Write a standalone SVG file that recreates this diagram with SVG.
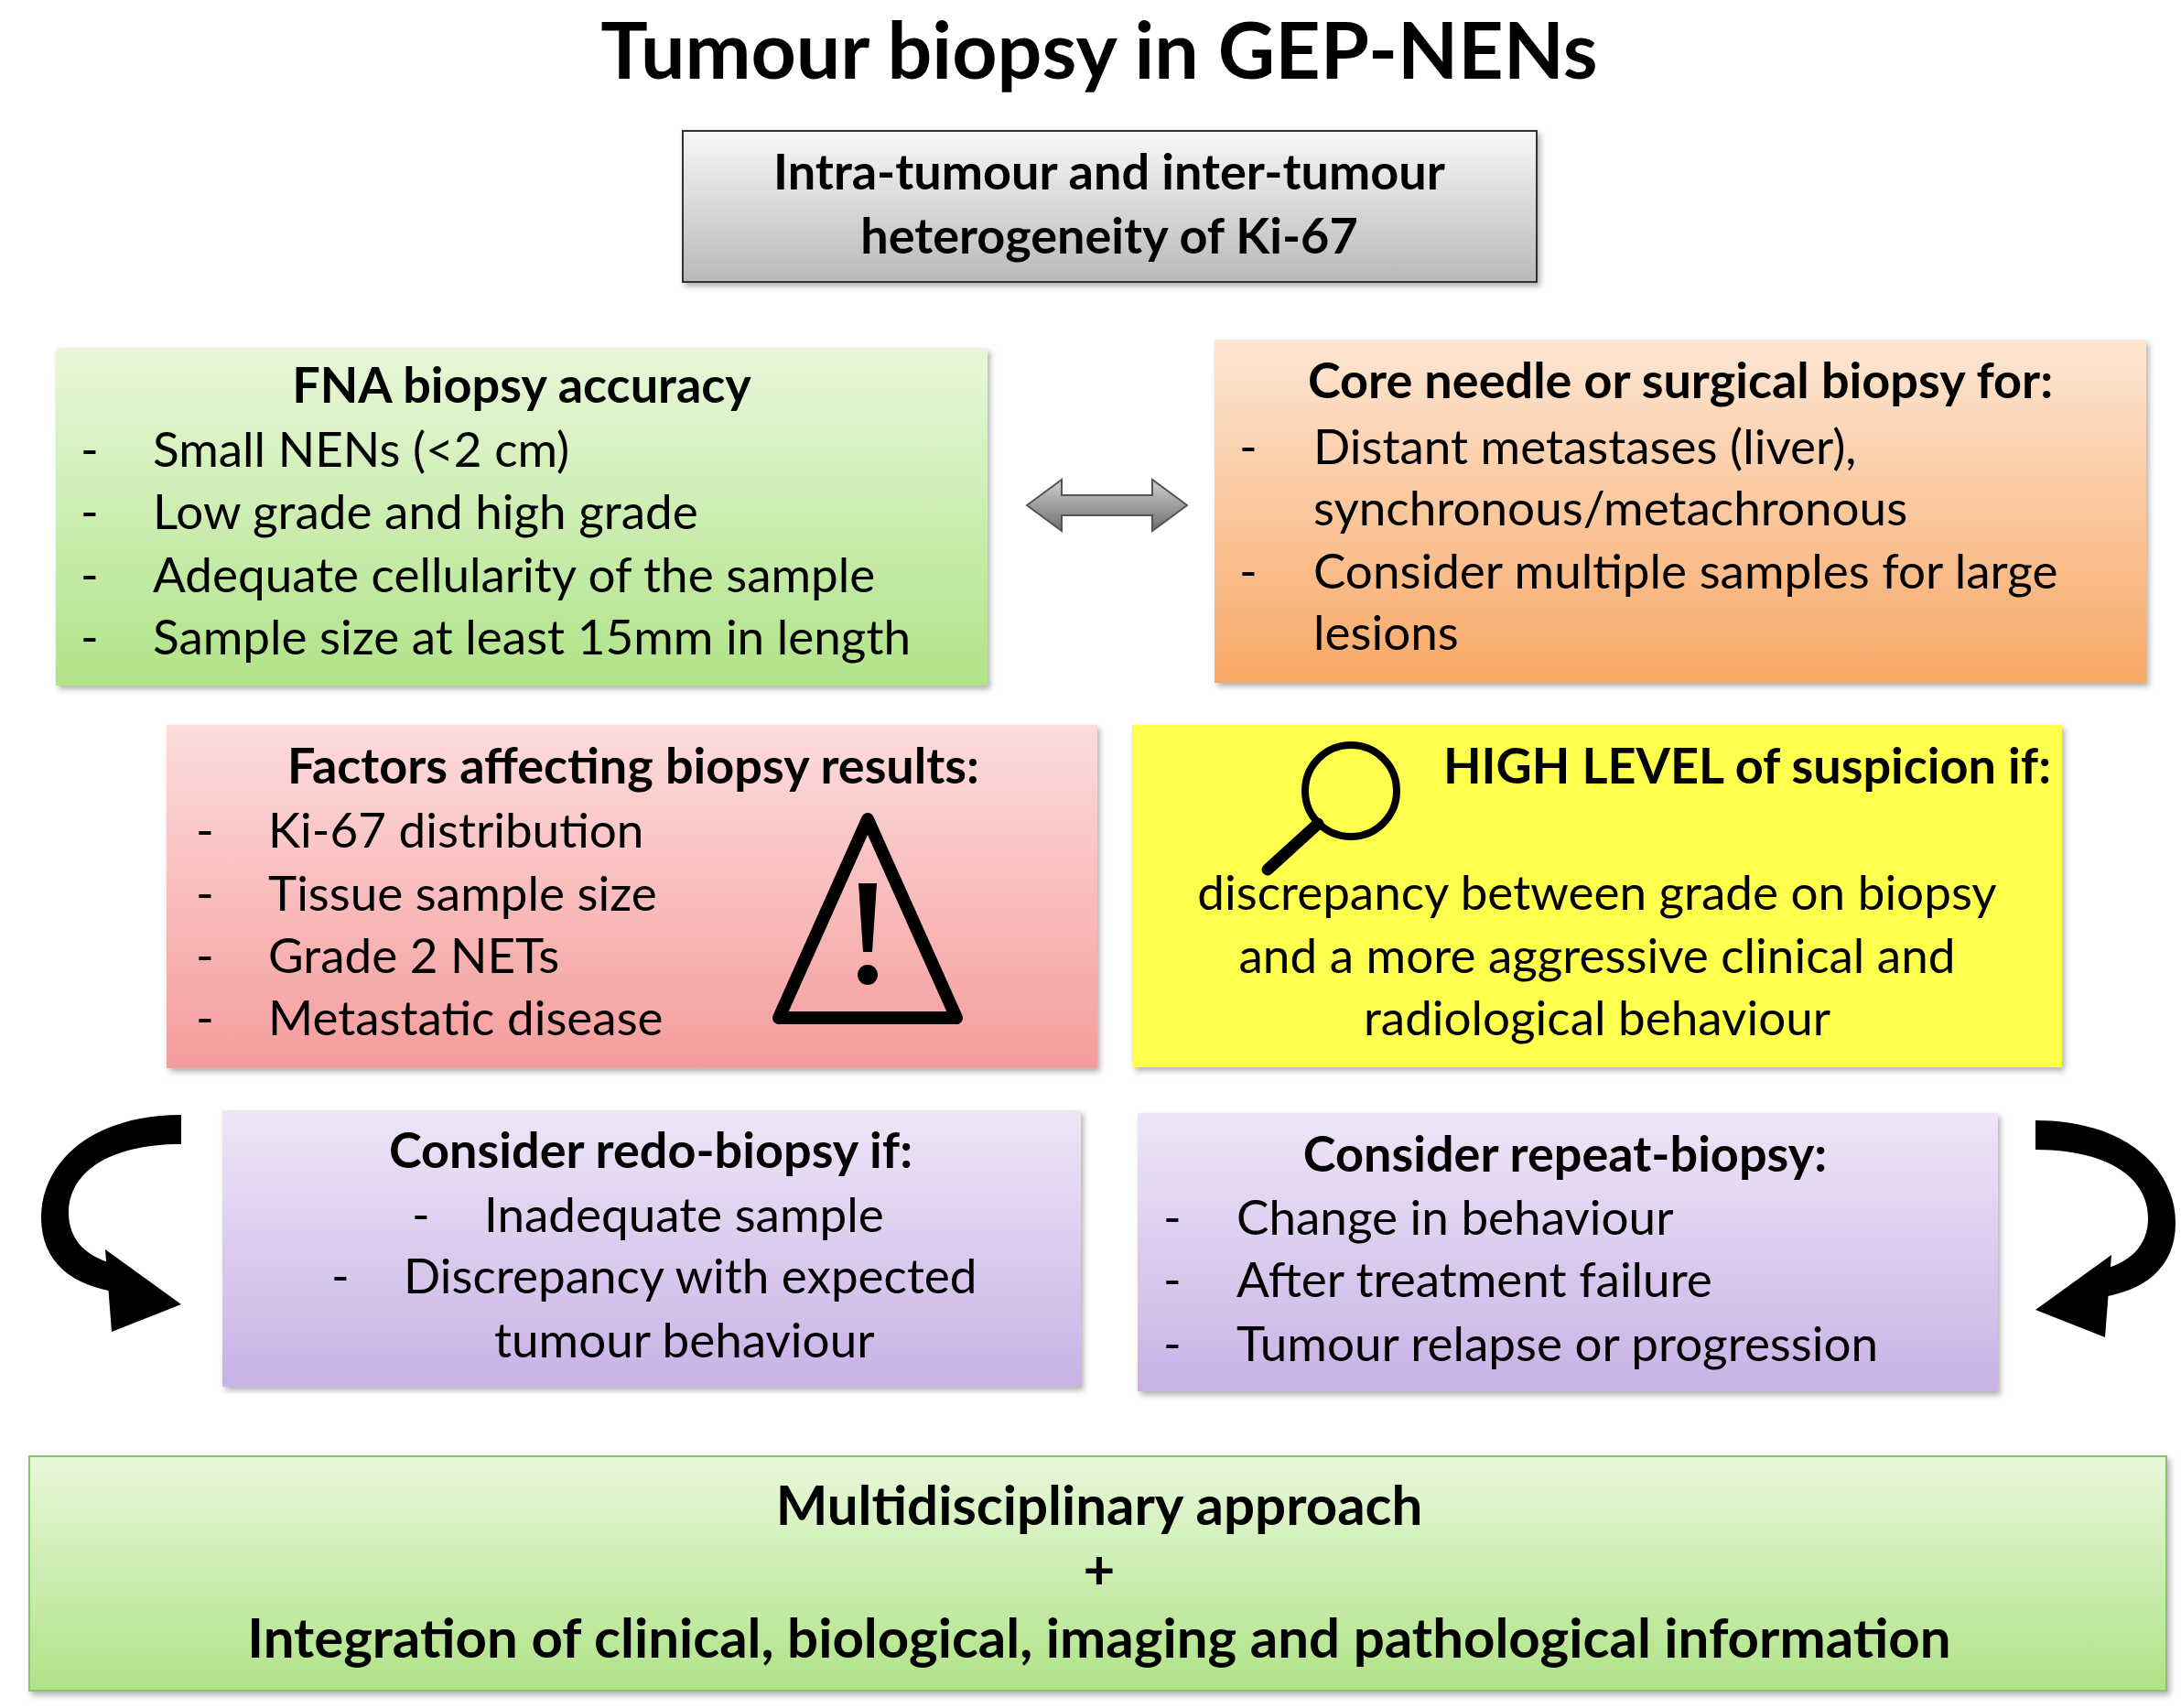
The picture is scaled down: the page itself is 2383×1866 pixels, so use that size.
<svg xmlns="http://www.w3.org/2000/svg" width="2383" height="1866" viewBox="0 0 2383 1866">
<defs>
<linearGradient id="gGray" x1="0" y1="0" x2="0" y2="1"><stop offset="0" stop-color="#f7f7f7"/><stop offset="1" stop-color="#b9b9b9"/></linearGradient>
<linearGradient id="gGreen" x1="0" y1="0" x2="0" y2="1"><stop offset="0" stop-color="#e8f8da"/><stop offset="1" stop-color="#b0e388"/></linearGradient>
<linearGradient id="gOrange" x1="0" y1="0" x2="0" y2="1"><stop offset="0" stop-color="#fde6d3"/><stop offset="1" stop-color="#f8a866"/></linearGradient>
<linearGradient id="gPink" x1="0" y1="0" x2="0" y2="1"><stop offset="0" stop-color="#fddcdc"/><stop offset="1" stop-color="#f59c9c"/></linearGradient>
<linearGradient id="gPurple" x1="0" y1="0" x2="0" y2="1"><stop offset="0" stop-color="#eee6f7"/><stop offset="1" stop-color="#c8b2e6"/></linearGradient>
<linearGradient id="gArrow" x1="0" y1="0" x2="0" y2="1"><stop offset="0" stop-color="#d0d0d0"/><stop offset="1" stop-color="#6e6e6e"/></linearGradient>
<filter id="sh" x="-5%" y="-5%" width="110%" height="115%"><feDropShadow dx="3" dy="4" stdDeviation="3" flood-color="#000" flood-opacity="0.3"/></filter>
</defs>
<style>
text{font-family:Lato,"Open Sans","Liberation Sans",sans-serif;fill:#000}
.t{font-size:53px}
.b{font-size:54px;font-weight:bold}
.bb{font-size:60px;font-weight:bold}
.c{text-anchor:middle}
.box{filter:url(#sh)}
</style>
<rect width="2383" height="1866" fill="#fff"/>
<text x="1201" y="86" class="c" style="font-size:86px;font-weight:bold">Tumour biopsy in GEP-NENs</text>

<g id="heterogeneity">
<rect class="box" x="746" y="143" width="933" height="165" fill="url(#gGray)" stroke="#333" stroke-width="2"/>
<text x="1212" y="207" class="b c">Intra-tumour and inter-tumour</text>
<text x="1212" y="277" class="b c">heterogeneity of Ki-67</text>
</g>

<g id="fna">
<rect class="box" x="61" y="380" width="1018" height="369" fill="url(#gGreen)"/>
<text x="570" y="440" class="b c">FNA biopsy accuracy</text>
<text x="88" y="510" class="t">-</text><text x="167" y="510" class="t">Small NENs (&lt;2 cm)</text>
<text x="88" y="578" class="t">-</text><text x="167" y="578" class="t">Low grade and high grade</text>
<text x="88" y="647" class="t">-</text><text x="167" y="647" class="t">Adequate cellularity of the sample</text>
<text x="88" y="715" class="t">-</text><text x="167" y="715" class="t">Sample size at least 15mm in length</text>
</g>

<g id="core">
<rect class="box" x="1327" y="371" width="1018" height="375" fill="url(#gOrange)"/>
<text x="1836" y="435" class="b c">Core needle or surgical biopsy for:</text>
<text x="1354" y="507" class="t">-</text><text x="1435" y="507" class="t">Distant metastases (liver),</text>
<text x="1435" y="574" class="t">synchronous/metachronous</text>
<text x="1354" y="643" class="t">-</text><text x="1435" y="643" class="t">Consider multiple samples for large</text>
<text x="1435" y="710" class="t">lesions</text>
</g>

<g id="factors">
<rect class="box" x="182" y="792" width="1017" height="375" fill="url(#gPink)"/>
<text x="692" y="856" class="b c">Factors affecting biopsy results:</text>
<text x="214" y="926" class="t">-</text><text x="293" y="926" class="t">Ki-67 distribution</text>
<text x="214" y="995" class="t">-</text><text x="293" y="995" class="t">Tissue sample size</text>
<text x="214" y="1063" class="t">-</text><text x="293" y="1063" class="t">Grade 2 NETs</text>
<text x="214" y="1131" class="t">-</text><text x="293" y="1131" class="t">Metastatic disease</text>
<path d="M948,895 L1045,1112 L851,1112 Z" fill="none" stroke="#000" stroke-width="14" stroke-linejoin="round"/>
<path d="M938,965 L958,965 L953,1040 L943,1040 Z" fill="#000"/>
<circle cx="948" cy="1065" r="11" fill="#000"/>
</g>

<g id="suspicion">
<rect class="box" x="1237" y="792" width="1016" height="374" fill="#ffff4d"/>
<circle cx="1476" cy="864" r="50" fill="none" stroke="#000" stroke-width="8"/>
<line x1="1440" y1="900" x2="1385" y2="950" stroke="#000" stroke-width="13" stroke-linecap="round"/>
<text x="1909" y="856" class="b c">HIGH LEVEL of suspicion if:</text>
<text x="1745" y="994" class="t c">discrepancy between grade on biopsy</text>
<text x="1745" y="1063" class="t c">and a more aggressive clinical and</text>
<text x="1745" y="1131" class="t c">radiological behaviour</text>
</g>

<g id="redo">
<rect class="box" x="243" y="1213" width="938" height="302" fill="url(#gPurple)"/>
<text x="711" y="1276" class="b c">Consider redo-biopsy if:</text>
<text x="450" y="1346" class="t">-</text><text x="529" y="1346" class="t">Inadequate sample</text>
<text x="362" y="1413" class="t">-</text><text x="441" y="1413" class="t">Discrepancy with expected</text>
<text x="540" y="1483" class="t">tumour behaviour</text>
</g>

<g id="repeat">
<rect class="box" x="1243" y="1216" width="940" height="304" fill="url(#gPurple)"/>
<text x="1710" y="1280" class="b c">Consider repeat-biopsy:</text>
<text x="1271" y="1349" class="t">-</text><text x="1351" y="1349" class="t">Change in behaviour</text>
<text x="1271" y="1417" class="t">-</text><text x="1351" y="1417" class="t">After treatment failure</text>
<text x="1271" y="1487" class="t">-</text><text x="1351" y="1487" class="t">Tumour relapse or progression</text>
</g>

<g id="multidisciplinary">
<rect class="box" x="32" y="1591" width="2335" height="256" fill="url(#gGreen)" stroke="#8cc46a" stroke-width="2"/>
<text x="1201" y="1666" class="bb c">Multidisciplinary approach</text>
<text x="1201" y="1736" class="bb c">+</text>
<text x="1201" y="1811" class="bb c">Integration of clinical, biological, imaging and pathological information</text>
</g>

<g id="connectors">
<path d="M1122,552 L1160,524 L1160,541 L1259,541 L1259,524 L1297,552 L1259,580 L1259,563 L1160,563 L1160,580 Z" fill="url(#gArrow)" stroke="#555" stroke-width="2"/>
<g id="leftCurve">
<path d="M198,1218 C100,1218 45,1270 45,1330 C45,1380 80,1405 130,1412 L130,1382 C95,1375 75,1355 75,1325 C75,1280 120,1250 198,1250 Z" fill="#000"/>
<path d="M115,1365 L198,1425 L122,1455 Z" fill="#000"/>
</g>
<g transform="translate(2422,6) scale(-1,1)">
<path d="M198,1218 C100,1218 45,1270 45,1330 C45,1380 80,1405 130,1412 L130,1382 C95,1375 75,1355 75,1325 C75,1280 120,1250 198,1250 Z" fill="#000"/>
<path d="M115,1365 L198,1425 L122,1455 Z" fill="#000"/>
</g>
</g>
</svg>
